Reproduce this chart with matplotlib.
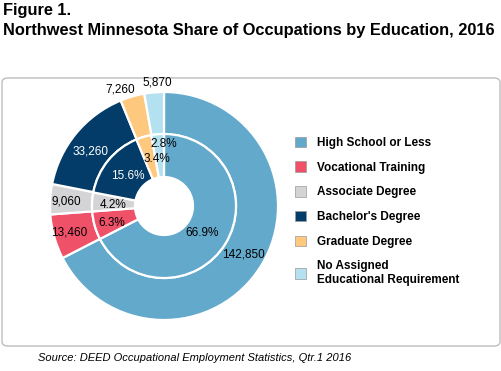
import matplotlib
matplotlib.use("Agg")
from matplotlib import pyplot as plt
from matplotlib.patches import FancyBboxPatch, Patch
import numpy as np

# data
categories = ["High School or Less", "Vocational Training", "Associate Degree",
              "Bachelor's Degree", "Graduate Degree",
              "No Assigned\nEducational Requirement"]
jobs = [142850, 13460, 9060, 33260, 7260, 5870]
shares = [66.9, 6.3, 4.2, 15.6, 3.4, 2.8]

colors = ["#63a9cc", "#ef5168", "#d4d4d6", "#033c68", "#fec97f", "#b4e1ef"]
txt_colors = ["black", "black", "black", "white", "black", "black"]

# label placement: radius along the slice middle, then a nudge in pixels
outer_r = [0.93, 0.98, 0.98, 0.92, 1.26, 1.24]
outer_nudge = [(0, 0), (0, 0), (0, -1), (-2, -4), (-9, -5), (4, 0)]
inner_r = [0.47, 0.54, 0.51, 0.47, 0.47, 0.62]
inner_nudge = [(-2, -3), (0, -2), (0, -2), (0, 0), (6, 2), (5, 0)]

plt.rcParams['font.family'] = ['Liberation Sans', 'DejaVu Sans']

W, H = 502, 371
fig = plt.figure(figsize=(W / 100, H / 100), dpi=100)

# frame box
box = FancyBboxPatch((2 / W, 1 - 346 / H), 498 / W, 268 / H,
                     boxstyle="round,pad=0,rounding_size=0.012",
                     transform=fig.transFigure, facecolor="white",
                     edgecolor="#bdbdbd", linewidth=1.0, zorder=-5)
fig.patches.append(box)

fig.text(3 / W, 1 - 11 / H, "Figure 1.", fontsize=11.75, fontweight="bold",
         va="center", ha="left")
fig.text(3 / W, 1 - 31 / H,
         "Northwest Minnesota Share of Occupations by Education, 2016",
         fontsize=11.75, fontweight="bold", va="center", ha="left")
fig.text(38 / W, 1 - 358 / H,
         "Source: DEED Occupational Employment Statistics, Qtr.1 2016",
         fontsize=8, style="italic", va="center", ha="left")

# donut axes, 1 data unit = 100 px
cx, cy = 164, 206
ax = fig.add_axes([(cx - 150) / W, 1 - (cy + 150) / H, 300 / W, 300 / H])

wo, _ = ax.pie(jobs, radius=1.14, colors=colors, startangle=90,
               counterclock=False,
               wedgeprops=dict(width=0.42, edgecolor="white", linewidth=1.6))
wi, _ = ax.pie(shares, radius=0.72, colors=colors, startangle=90,
               counterclock=False,
               wedgeprops=dict(width=0.43, edgecolor="white", linewidth=1.6))
ax.set_xlim(-1.5, 1.5)
ax.set_ylim(-1.5, 1.5)
ax.set_aspect("equal")
ax.axis("off")


def put_labels(wedges, texts, radii, nudges):
    for i, w in enumerate(wedges):
        a = np.deg2rad((w.theta1 + w.theta2) / 2)
        r = radii[i]
        ax.annotate(texts[i], xy=(r * np.cos(a), r * np.sin(a)),
                    xytext=nudges[i], textcoords="offset pixels",
                    ha="center", va="center", fontsize=8.5,
                    color=txt_colors[i])


put_labels(wo, [f"{v:,}" for v in jobs], outer_r, outer_nudge)
put_labels(wi, [f"{v:.1f}%" for v in shares], inner_r, inner_nudge)

handles = [Patch(facecolor=c, edgecolor="#9a9a9a", linewidth=0.5) for c in colors]
leg = fig.legend(handles, categories, loc="upper left",
                 bbox_to_anchor=(284 / W, 1 - 126 / H), frameon=False,
                 handlelength=1.0, handleheight=1.0, handletextpad=0.9,
                 labelspacing=1.05, prop=dict(size=8.5, weight="bold"))

fig.savefig("out.png", dpi=100)
